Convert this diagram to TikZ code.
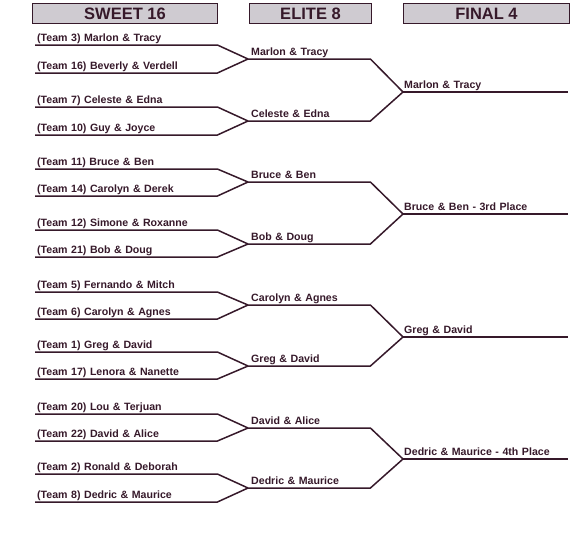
\documentclass[tikz,border=0pt]{standalone}
\usepackage{fontspec}
\setmainfont{Liberation Sans}
\usepackage{tikz}
\definecolor{ink}{HTML}{36192A}
\definecolor{boxfill}{HTML}{CFCBD1}
\tikzset{head/.style = {draw = ink, line width = 1.8pt, fill = boxfill, minimum height = 20pt, inner sep = 0pt, text = ink, font = \fontsize{16.5}{18}\selectfont\bfseries}}
\tikzset{team/.style = {anchor = south west, text width = 178pt, inner xsep = 2pt, inner ysep = 3pt, text height = 8pt, text depth = 0pt, text = ink, font = \fontsize{10.6}{12}\selectfont\bfseries}}
\tikzset{elite/.style = {team, text width = 116pt, inner xsep = 3pt}}
\tikzset{final/.style = {team, text width = 163pt, inner xsep = 1pt}}
\tikzset{bline/.style = {draw = ink, line width = 1.5pt, line join = miter}}

\begin{document}
\begin{tikzpicture}[x = 1pt, y = -1pt]
			\useasboundingbox (0, 0) rectangle (572, 550);

			\node[head, minimum width = 185pt] (h1) at (125, 13.5) {SWEET 16};
			\node[head, minimum width = 122pt] (h2) at (310.5, 13.5) {ELITE 8};
			\node[head, minimum width = 166pt] (h3) at (486.5, 13.5) {FINAL 4};

			% sweet 16
			\node[team] (s1) at (35, 45) {(Team 3) Marlon \& Tracy};
			\node[team] (s2) at (35, 73) {(Team 16) Beverly \& Verdell};
			\node[team] (s3) at (35, 107) {(Team 7) Celeste \& Edna};
			\node[team] (s4) at (35, 135) {(Team 10) Guy \& Joyce};
			\node[team] (s5) at (35, 169) {(Team 11) Bruce \& Ben};
			\node[team] (s6) at (35, 196) {(Team 14) Carolyn \& Derek};
			\node[team] (s7) at (35, 230) {(Team 12) Simone \& Roxanne};
			\node[team] (s8) at (35, 257) {(Team 21) Bob \& Doug};
			\node[team] (s9) at (35, 292) {(Team 5) Fernando \& Mitch};
			\node[team] (s10) at (35, 319) {(Team 6) Carolyn \& Agnes};
			\node[team] (s11) at (35, 352) {(Team 1) Greg \& David};
			\node[team] (s12) at (35, 379) {(Team 17) Lenora \& Nanette};
			\node[team] (s13) at (35, 414) {(Team 20) Lou \& Terjuan};
			\node[team] (s14) at (35, 441) {(Team 22) David \& Alice};
			\node[team] (s15) at (35, 474) {(Team 2) Ronald \& Deborah};
			\node[team] (s16) at (35, 502) {(Team 8) Dedric \& Maurice};

			% elite 8
			\node[elite] (e1) at (248, 59) {Marlon \& Tracy};
			\node[elite] (e2) at (248, 121) {Celeste \& Edna};
			\node[elite] (e3) at (248, 182) {Bruce \& Ben};
			\node[elite] (e4) at (248, 244) {Bob \& Doug};
			\node[elite] (e5) at (248, 305) {Carolyn \& Agnes};
			\node[elite] (e6) at (248, 366) {Greg \& David};
			\node[elite] (e7) at (248, 428) {David \& Alice};
			\node[elite] (e8) at (248, 488) {Dedric \& Maurice};

			% final 4
			\node[final] (f1) at (403, 92) {Marlon \& Tracy};
			\node[final] (f2) at (403, 214) {Bruce \& Ben - 3rd Place};
			\node[final] (f3) at (403, 337) {Greg \& David};
			\node[final] (f4) at (403, 459) {Dedric \& Maurice - 4th Place};

			\draw[bline] (s1.south west) -- (s1.south east) -- (e1.south west);
			\draw[bline] (s2.south west) -- (s2.south east) -- (e1.south west);
			\draw[bline] (s3.south west) -- (s3.south east) -- (e2.south west);
			\draw[bline] (s4.south west) -- (s4.south east) -- (e2.south west);
			\draw[bline] (s5.south west) -- (s5.south east) -- (e3.south west);
			\draw[bline] (s6.south west) -- (s6.south east) -- (e3.south west);
			\draw[bline] (s7.south west) -- (s7.south east) -- (e4.south west);
			\draw[bline] (s8.south west) -- (s8.south east) -- (e4.south west);
			\draw[bline] (s9.south west) -- (s9.south east) -- (e5.south west);
			\draw[bline] (s10.south west) -- (s10.south east) -- (e5.south west);
			\draw[bline] (s11.south west) -- (s11.south east) -- (e6.south west);
			\draw[bline] (s12.south west) -- (s12.south east) -- (e6.south west);
			\draw[bline] (s13.south west) -- (s13.south east) -- (e7.south west);
			\draw[bline] (s14.south west) -- (s14.south east) -- (e7.south west);
			\draw[bline] (s15.south west) -- (s15.south east) -- (e8.south west);
			\draw[bline] (s16.south west) -- (s16.south east) -- (e8.south west);

			\draw[bline] (e1.south west) -- (e1.south east) -- (f1.south west);
			\draw[bline] (e2.south west) -- (e2.south east) -- (f1.south west);
			\draw[bline] (e3.south west) -- (e3.south east) -- (f2.south west);
			\draw[bline] (e4.south west) -- (e4.south east) -- (f2.south west);
			\draw[bline] (e5.south west) -- (e5.south east) -- (f3.south west);
			\draw[bline] (e6.south west) -- (e6.south east) -- (f3.south west);
			\draw[bline] (e7.south west) -- (e7.south east) -- (f4.south west);
			\draw[bline] (e8.south west) -- (e8.south east) -- (f4.south west);

			\draw[bline] (f1.south west) -- (f1.south east);
			\draw[bline] (f2.south west) -- (f2.south east);
			\draw[bline] (f3.south west) -- (f3.south east);
			\draw[bline] (f4.south west) -- (f4.south east);
		\end{tikzpicture}
\end{document}
